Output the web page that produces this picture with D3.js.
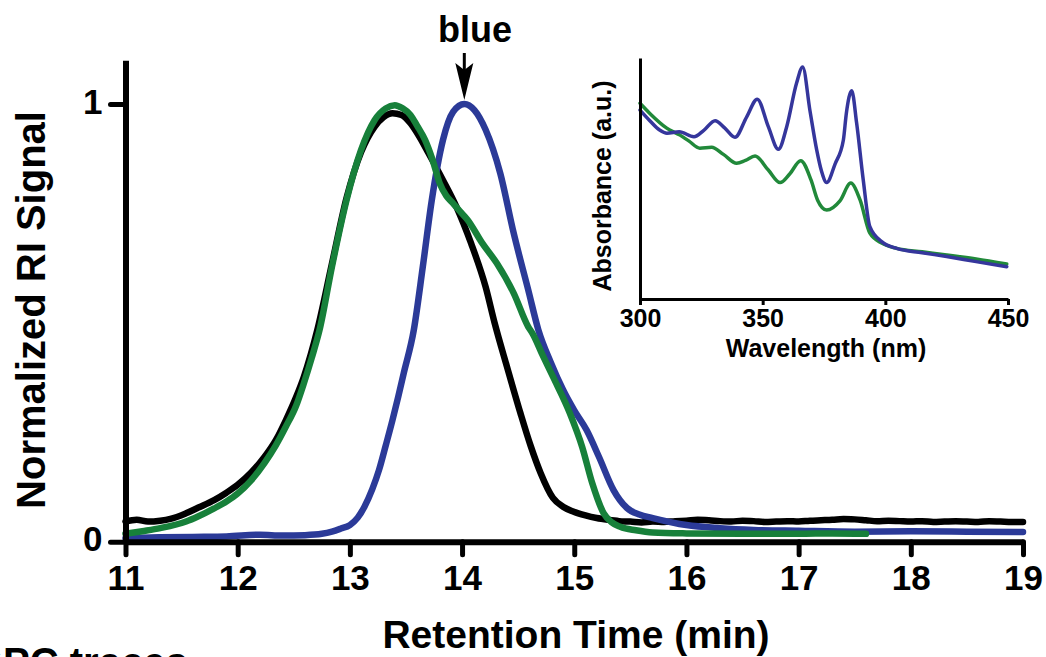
<!DOCTYPE html>
<html>
<head>
<meta charset="utf-8">
<script src="https://cdn.jsdelivr.net/npm/d3@7"></script>
<style>
  html, body { margin: 0; padding: 0; background: #fff; }
  svg { display: block; }
  text { font-family: "Liberation Sans", Arial, Helvetica, sans-serif; font-weight: bold; fill: #000; }
</style>
</head>
<body>
<svg id="chart" width="1046" height="657"></svg>
<script>
// ---------- DATA (main GPC chart) ----------
const xTicks = [11, 12, 13, 14, 15, 16, 17, 18, 19];
const yTicks = [0, 1];

const blackTime = [11.0, 11.1, 11.2, 11.31, 11.4, 11.54, 11.65, 11.79, 11.9, 12.0, 12.12, 12.24, 12.34, 12.43, 12.52, 12.59, 12.71, 12.84, 12.97, 13.1, 13.22, 13.3, 13.38, 13.46, 13.54, 13.62, 13.7, 13.83, 13.95, 14.08, 14.21, 14.29, 14.4, 14.52, 14.61, 14.7, 14.81, 14.9, 14.99, 15.1, 15.2, 15.3,
  15.4, 15.5, 15.6, 15.7, 15.8, 15.9, 16.0, 16.1, 16.2, 16.3, 16.4, 16.5, 16.6, 16.7, 16.8, 16.9, 17.0, 17.1, 17.2, 17.3, 17.4, 17.5, 17.6, 17.7, 17.8, 17.9, 18.0, 18.1, 18.2, 18.3, 18.4, 18.5, 18.6, 18.7, 18.8, 18.9, 19.0];
const blackSignal = [0.046, 0.050, 0.046, 0.048, 0.052, 0.065, 0.078, 0.095, 0.112, 0.130, 0.158, 0.194, 0.232, 0.278, 0.330, 0.377, 0.484, 0.635, 0.785, 0.890, 0.948, 0.970, 0.979, 0.975, 0.956, 0.925, 0.888, 0.826, 0.765, 0.682, 0.582, 0.500, 0.400, 0.294, 0.220, 0.157, 0.100, 0.080, 0.069, 0.060, 0.054, 0.050,
  0.047, 0.046, 0.044, 0.046, 0.045, 0.047, 0.048, 0.050, 0.049, 0.047, 0.046, 0.048, 0.047, 0.045, 0.046, 0.047, 0.046, 0.048, 0.049, 0.050, 0.052, 0.051, 0.049, 0.047, 0.048, 0.047, 0.046, 0.047, 0.045, 0.046, 0.047, 0.046, 0.045, 0.047, 0.046, 0.045, 0.045];

const blueTime = [11.0, 11.3, 11.6, 11.9, 12.2, 12.4, 12.6, 12.75, 12.84, 12.92, 13.0, 13.07, 13.13, 13.2, 13.26, 13.32, 13.38, 13.43, 13.48, 13.57, 13.65, 13.73, 13.83, 13.92, 14.02, 14.11, 14.21, 14.34, 14.46, 14.59, 14.68, 14.79, 14.9, 15.0, 15.11, 15.22, 15.35, 15.47, 15.58, 15.7, 16.0, 16.3, 16.6, 17.0, 17.5, 18.0, 18.5, 19.0];
const blueSignal = [0.008, 0.010, 0.011, 0.012, 0.016, 0.014, 0.015, 0.018, 0.023, 0.030, 0.038, 0.055, 0.080, 0.120, 0.164, 0.220, 0.278, 0.330, 0.385, 0.484, 0.628, 0.780, 0.918, 0.982, 1.000, 0.986, 0.941, 0.842, 0.705, 0.575, 0.484, 0.410, 0.347, 0.300, 0.255, 0.194, 0.118, 0.077, 0.062, 0.054, 0.038, 0.031, 0.027, 0.025, 0.023, 0.024, 0.023, 0.022];

const greenTime = [11.0, 11.15, 11.31, 11.54, 11.65, 11.79, 11.9, 12.0, 12.12, 12.24, 12.34, 12.43, 12.52, 12.59, 12.66, 12.73, 12.84, 12.97, 13.1, 13.22, 13.32, 13.4, 13.47, 13.54, 13.6, 13.67, 13.74, 13.8, 13.86, 13.92, 13.98, 14.05, 14.18, 14.31, 14.46, 14.59, 14.63, 14.72, 14.81, 14.96, 15.07, 15.16, 15.26, 15.33, 15.41, 15.55, 15.7, 16.0, 16.5, 17.0, 17.3, 17.6];
const greenSignal = [0.018, 0.024, 0.031, 0.046, 0.058, 0.076, 0.092, 0.110, 0.140, 0.180, 0.220, 0.263, 0.310, 0.362, 0.420, 0.484, 0.628, 0.780, 0.895, 0.963, 0.990, 0.997, 0.990, 0.975, 0.950, 0.918, 0.870, 0.819, 0.790, 0.773, 0.755, 0.735, 0.682, 0.636, 0.568, 0.491, 0.475, 0.425, 0.377, 0.294, 0.217, 0.134, 0.066, 0.045, 0.034, 0.026, 0.021, 0.019, 0.018, 0.018, 0.019, 0.018];

// ---------- DATA (inset UV-vis) ----------
const insetXTicks = [300, 350, 400, 450];
const uvBlueNm = [300, 304, 308, 311, 316, 322, 326, 330.6, 334.5, 338.7, 343.5, 347.8, 352.3, 356.4, 359.8, 363.8, 366.3, 369.3, 372, 374, 376.1, 379.5, 382.9, 384.1, 386.3, 388.3, 391, 393.7, 398.5, 404.6, 415, 425, 437, 449.5];
const uvBlueAbs = [0.784, 0.740, 0.701, 0.688, 0.694, 0.673, 0.700, 0.740, 0.710, 0.671, 0.756, 0.829, 0.715, 0.621, 0.715, 0.895, 0.963, 0.780, 0.620, 0.530, 0.483, 0.560, 0.660, 0.770, 0.864, 0.730, 0.494, 0.300, 0.238, 0.210, 0.192, 0.176, 0.155, 0.134];
const uvGreenNm = [300, 304, 310.9, 316.3, 320, 324.4, 329.2, 334, 339.4, 343, 346.9, 352.3, 357.1, 361.1, 365.5, 369.7, 372.4, 376.1, 381.5, 385.9, 389.7, 393.7, 398.5, 404.6, 415, 425, 437, 449.5];
const uvGreenAbs = [0.812, 0.770, 0.709, 0.680, 0.655, 0.626, 0.630, 0.600, 0.563, 0.575, 0.593, 0.535, 0.483, 0.520, 0.574, 0.494, 0.410, 0.369, 0.407, 0.481, 0.411, 0.273, 0.232, 0.210, 0.196, 0.183, 0.166, 0.145];

// ---------- STYLE ----------
const colBlack = "#000000";
const colBlue = "#2b3a98";
const colGreen = "#17803a";
const colBlueInset = "#35369c";
const colGreenInset = "#21893a";

const svg = d3.select("#chart");

// ---------- MAIN CHART ----------
const x = d3.scaleLinear().domain([11, 19]).range([125.5, 1023]);
const y = d3.scaleLinear().domain([0, 1.1]).range([541.7, 60.2]);

const line = d3.line().x(d => x(d[0])).y(d => y(d[1])).curve(d3.curveMonotoneX);
const zip = (a, b) => a.map((v, i) => [v, b[i]]);

const series = [
  { t: blackTime, v: blackSignal, c: colBlack },
  { t: blueTime, v: blueSignal, c: colBlue },
  { t: greenTime, v: greenSignal, c: colGreen }
];
svg.append("g").selectAll("path").data(series).join("path")
  .attr("d", d => line(zip(d.t, d.v)))
  .attr("fill", "none")
  .attr("stroke", d => d.c)
  .attr("stroke-width", 6.5)
  .attr("stroke-linejoin", "round")
  .attr("stroke-linecap", "round");

const xAxis = svg.append("g").attr("transform", `translate(0,${y(0)})`)
  .call(d3.axisBottom(x).tickValues(xTicks).tickSize(13).tickSizeOuter(0).tickPadding(10).tickFormat(d3.format("d")));
const yAxis = svg.append("g").attr("transform", `translate(${x(11)},0)`)
  .call(d3.axisLeft(y).tickValues(yTicks).tickSize(15).tickSizeOuter(0).tickPadding(8).tickFormat(d3.format("d")));

[xAxis, yAxis].forEach(g => {
  g.select(".domain").attr("stroke", "#000").attr("stroke-width", 6);
  g.selectAll(".tick line").attr("stroke", "#000").attr("stroke-width", 5).attr("stroke-linecap", "round");
  g.selectAll(".tick text").attr("font-size", 35).attr("font-weight", "bold")
    .attr("font-family", '"Liberation Sans", Arial, sans-serif').attr("fill", "#000");
});
yAxis.selectAll(".tick text").attr("dy", "0.26em");

svg.append("text").attr("x", 576).attr("y", 648).attr("text-anchor", "middle")
  .attr("font-size", 39).text("Retention Time (min)");
svg.append("text").attr("transform", "translate(45,310) rotate(-90)").attr("text-anchor", "middle")
  .attr("font-size", 40).text("Normalized RI Signal");

// annotation
svg.append("text").attr("x", 475).attr("y", 42).attr("text-anchor", "middle")
  .attr("font-size", 36).text("blue");
const peakX = x(blueTime[blueSignal.indexOf(d3.max(blueSignal))]);
svg.append("line").attr("x1", peakX).attr("x2", peakX).attr("y1", 53).attr("y2", 75)
  .attr("stroke", "#000").attr("stroke-width", 3);
svg.append("path")
  .attr("d", `M${peakX - 9},63 L${peakX},${y(1) - 4} L${peakX + 9},63 L${peakX},70 Z`)
  .attr("fill", "#000");

// cut-off caption (cropped in the reference as well)
svg.append("text").attr("x", -28).attr("y", 676).attr("font-size", 40).text("GPC traces");

// ---------- INSET ----------
const xi = d3.scaleLinear().domain([300, 450]).range([640, 1008]);
const yi = d3.scaleLinear().domain([0, 1]).range([299, 58]);
const lineI = d3.line().x(d => xi(d[0])).y(d => yi(d[1])).curve(d3.curveMonotoneX);

const inset = [
  { t: uvGreenNm, v: uvGreenAbs, c: colGreenInset },
  { t: uvBlueNm, v: uvBlueAbs, c: colBlueInset }
];
svg.append("g").selectAll("path").data(inset).join("path")
  .attr("d", d => lineI(zip(d.t, d.v)))
  .attr("fill", "none")
  .attr("stroke", d => d.c)
  .attr("stroke-width", 3.5)
  .attr("stroke-linejoin", "round")
  .attr("stroke-linecap", "round");

const xiAxis = svg.append("g").attr("transform", `translate(0,${yi(0)})`)
  .call(d3.axisBottom(xi).tickValues(insetXTicks).tickSize(6).tickSizeOuter(0).tickPadding(4).tickFormat(d3.format("d")));
const yiAxis = svg.append("g").attr("transform", `translate(${xi(300)},0)`)
  .call(d3.axisLeft(yi).tickValues([]).tickSizeOuter(0));
[xiAxis, yiAxis].forEach(g => {
  g.select(".domain").attr("stroke", "#000").attr("stroke-width", 3);
  g.selectAll(".tick line").attr("stroke", "#000").attr("stroke-width", 3);
  g.selectAll(".tick text").attr("font-size", 25).attr("font-weight", "bold")
    .attr("font-family", '"Liberation Sans", Arial, sans-serif').attr("fill", "#000");
});
svg.append("text").attr("x", 826).attr("y", 357).attr("text-anchor", "middle")
  .attr("font-size", 25).text("Wavelength (nm)");
svg.append("text").attr("transform", "translate(611,186) rotate(-90)").attr("text-anchor", "middle")
  .attr("font-size", 25).text("Absorbance (a.u.)");
</script>
</body>
</html>
